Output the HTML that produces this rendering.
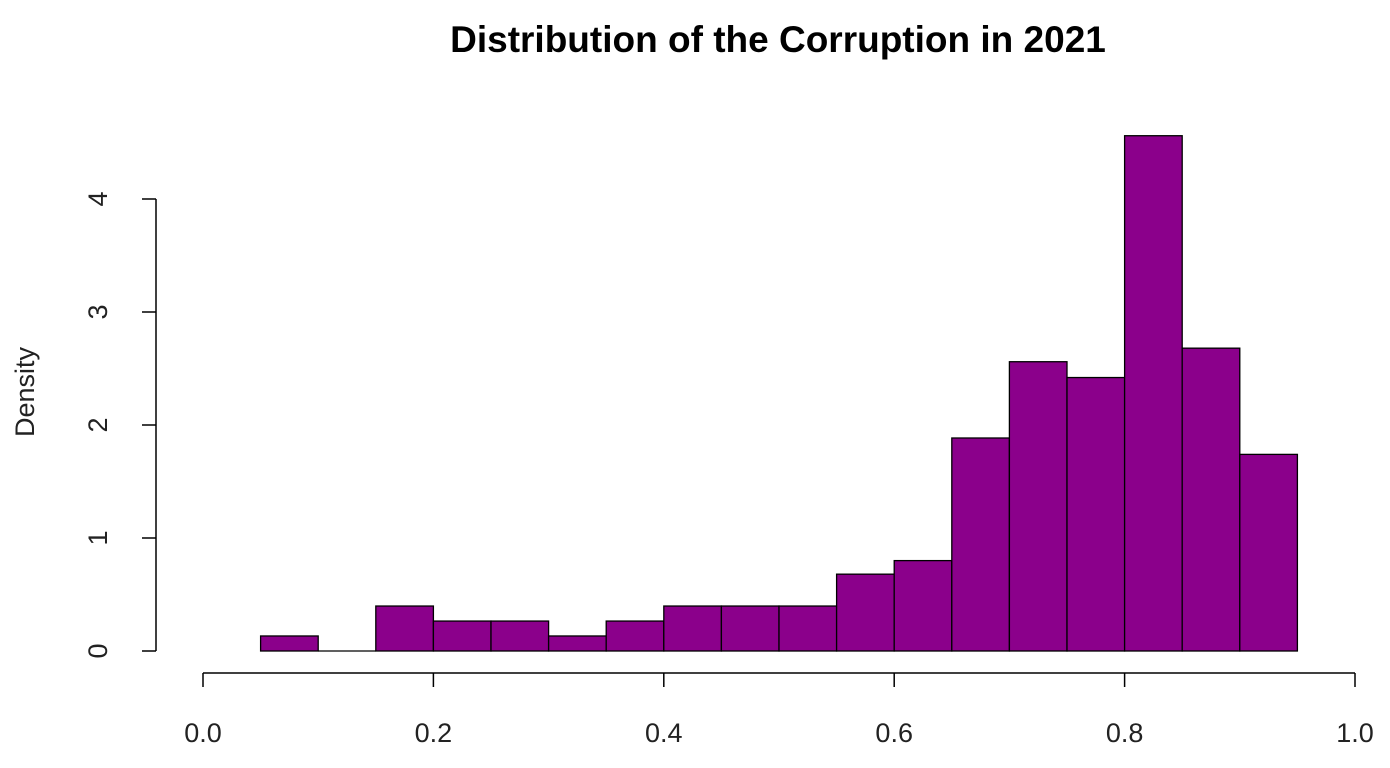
<!DOCTYPE html>
<html><head><meta charset="utf-8"><style>
html,body{margin:0;padding:0;background:#fff;}
svg{display:block;font-family:"Liberation Sans",Arial,sans-serif;}
</style></head><body>
<svg id="chart" width="1390" height="768">
<text x="778" y="52" text-anchor="middle" font-size="37" font-weight="bold">Distribution of the Corruption in 2021</text>
<text transform="translate(34,392) rotate(-90)" text-anchor="middle" font-size="27" fill="#222">Density</text>
<g id="bars"></g>
<g id="axes"></g>
</svg>
<script>
const binStarts = [0.05,0.10,0.15,0.20,0.25,0.30,0.35,0.40,0.45,0.50,0.55,0.60,0.65,0.70,0.75,0.80,0.85,0.90];
const densities = [0.133,0,0.398,0.265,0.265,0.133,0.265,0.398,0.398,0.398,0.68,0.80,1.885,2.56,2.42,4.56,2.68,1.74];
const binWidth = 0.05;
const xTicks = [0,0.2,0.4,0.6,0.8,1.0];
const xTickLabels = ["0.0","0.2","0.4","0.6","0.8","1.0"];
const yTicks = [0,1,2,3,4];

const NS="http://www.w3.org/2000/svg";
const xs = v => 203 + v*1152;
const ys = v => 651 - v*113;
function mk(tag, attrs, parent){const e=document.createElementNS(NS,tag);for(const k in attrs)e.setAttribute(k,attrs[k]);parent.appendChild(e);return e;}
const bars=document.getElementById('bars'), axes=document.getElementById('axes');
binStarts.forEach((b,i)=>{
  const x0=xs(b), x1=xs(b+binWidth), y=ys(densities[i]);
  let r;
  if (densities[i] > 0) {
    r=mk('rect',{x:x0,y:y,width:x1-x0,height:651-y,fill:'#8B008B',stroke:'#000','stroke-width':1.3},bars);
  } else {
    r=mk('line',{x1:x0,x2:x1,y1:y,y2:y,stroke:'#000','stroke-width':1.3},bars);
  }
  
  
});
const xl=mk('line',{x1:xs(0),x2:xs(1),y1:673,y2:673,stroke:'#000','stroke-width':1.5},axes);


xTicks.forEach((t,i)=>{
  mk('line',{x1:xs(t),x2:xs(t),y1:673,y2:687,stroke:'#000','stroke-width':1.5},axes);
  const tx=mk('text',{x:xs(t),y:742,'text-anchor':'middle','font-size':27,fill:'#222'},axes);
  tx.textContent=xTickLabels[i];
  
  
});
const yl=mk('line',{x1:156,x2:156,y1:ys(4),y2:ys(0),stroke:'#000','stroke-width':1.5},axes);


yTicks.forEach(t=>{
  mk('line',{x1:142,x2:156,y1:ys(t),y2:ys(t),stroke:'#000','stroke-width':1.5},axes);
  const tx=mk('text',{transform:`translate(107,${ys(t)}) rotate(-90)`,'text-anchor':'middle','font-size':27,fill:'#222'},axes);
  tx.textContent=String(t);
  
  
});
</script>
</body></html>
